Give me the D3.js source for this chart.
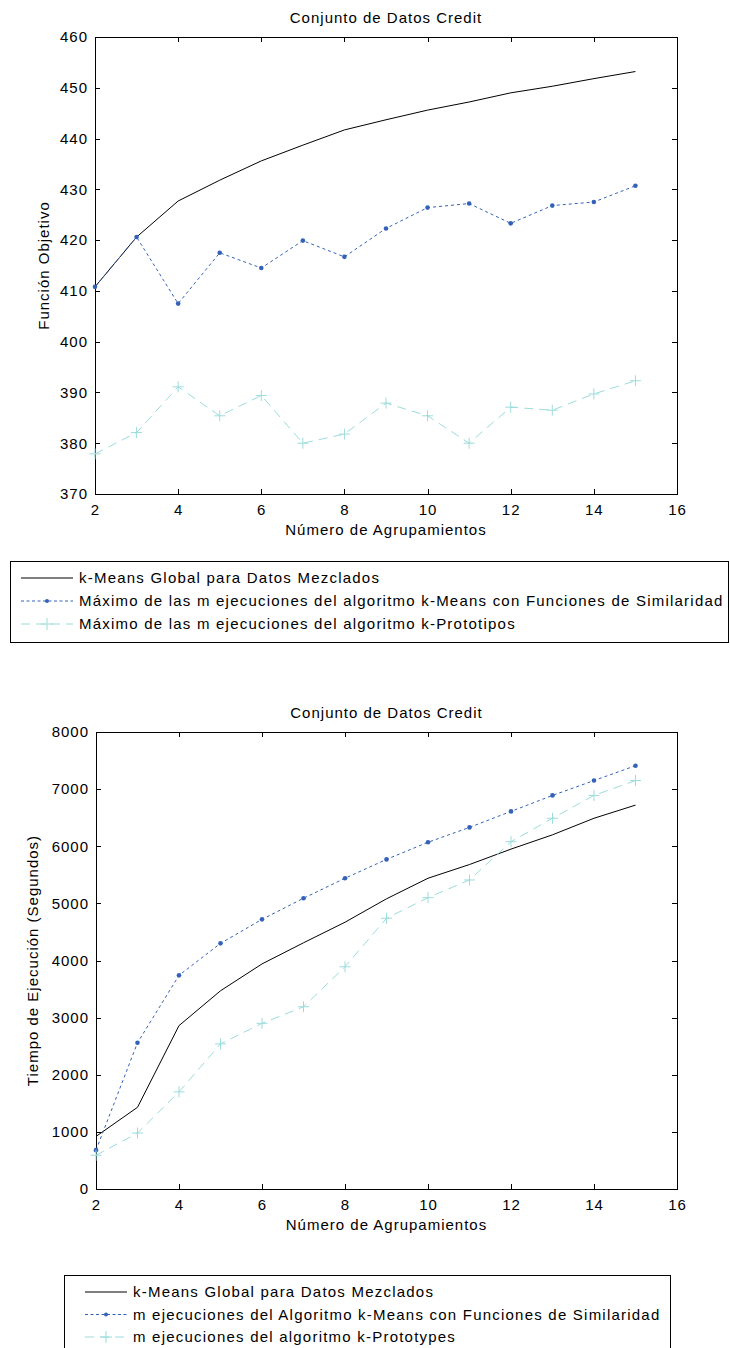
<!DOCTYPE html>
<meta charset="utf-8">
<title>Conjunto de Datos Credit</title>
<style>
body { margin: 0; background: #fff; }
svg text { font-family: Arial, "Liberation Sans", sans-serif; font-size: 15px; letter-spacing: 1px; fill: #000; }
svg text.legend { letter-spacing: 1.22px; }
.axis path, .axis line { stroke: #000; stroke-width: 1; fill: none; shape-rendering: crispEdges; }
</style>
<body>
<script src="https://d3js.org/d3.v7.min.js"></script>
<script>

// number of clusters (x values)
var clusters = [2, 3, 4, 5, 6, 7, 8, 9, 10, 11, 12, 13, 14, 15];
var xTicks = [2, 4, 6, 8, 10, 12, 14, 16];

// chart 1: objective function
var objGlobal  = [410.8, 420.6, 427.7, 431.8, 435.6, 438.7, 441.7, 443.7, 445.6, 447.2, 449.0, 450.3, 451.8, 453.2];
var objSimil   = [410.8, 420.6, 407.5, 417.5, 414.5, 419.9, 416.7, 422.3, 426.4, 427.2, 423.3, 426.8, 427.5, 430.7];
var objProto   = [377.9, 382.1, 391.1, 385.4, 389.4, 380.0, 381.8, 387.9, 385.4, 380.0, 387.1, 386.5, 389.7, 392.3];
var objTicks   = [370, 380, 390, 400, 410, 420, 430, 440, 450, 460];
var objLegend  = ["k-Means Global para Datos Mezclados",
                  "Máximo de las m ejecuciones del algoritmo k-Means con Funciones de Similaridad",
                  "Máximo de las m ejecuciones del algoritmo k-Prototipos"];

// chart 2: execution time
var timeGlobal = [920, 1430, 2860, 3470, 3940, 4310, 4670, 5080, 5440, 5680, 5950, 6200, 6490, 6720];
var timeSimil  = [680, 2560, 3740, 4300, 4720, 5090, 5440, 5770, 6070, 6330, 6610, 6890, 7150, 7410];
var timeProto  = [590, 980, 1700, 2540, 2900, 3190, 3890, 4740, 5100, 5410, 6080, 6490, 6890, 7150];
var timeTicks  = [0, 1000, 2000, 3000, 4000, 5000, 6000, 7000, 8000];
var timeLegend = ["k-Means Global para Datos Mezclados",
                  "m ejecuciones del Algoritmo k-Means con Funciones de Similaridad",
                  "m ejecuciones del algoritmo k-Prototypes"];

var title = "Conjunto de Datos Credit";
var xLabel = "Número de Agrupamientos";

var blue = "#3362b8", cyan = "#9cdcdc";

var svg = d3.select("body").append("svg")
    .attr("width", 730)
    .attr("height", 1348);

function drawPanel(opt) {
  var x = d3.scaleLinear().domain([2, 16]).range([opt.left, opt.right]);
  var y = d3.scaleLinear().domain(opt.yDomain).range([opt.bottom, opt.top]);
  var g = svg.append("g");
  var fmt = d3.format("d");

  // axes with inward ticks on all four sides
  g.append("g").attr("class", "axis")
      .attr("transform", "translate(0," + opt.bottom + ")")
      .call(d3.axisBottom(x).tickValues(xTicks).tickSizeInner(-5).tickSizeOuter(0).tickPadding(10).tickFormat(fmt));
  g.append("g").attr("class", "axis")
      .attr("transform", "translate(0," + opt.top + ")")
      .call(d3.axisTop(x).tickValues(xTicks).tickSizeInner(-5).tickSizeOuter(0).tickFormat(""));
  g.append("g").attr("class", "axis")
      .attr("transform", "translate(" + opt.left + ",0)")
      .call(d3.axisLeft(y).tickValues(opt.yTicks).tickSizeInner(-5).tickSizeOuter(0).tickPadding(7).tickFormat(fmt));
  g.append("g").attr("class", "axis")
      .attr("transform", "translate(" + opt.right + ",0)")
      .call(d3.axisRight(y).tickValues(opt.yTicks).tickSizeInner(-5).tickSizeOuter(0).tickFormat(""));
  g.selectAll(".axis text").attr("font-size", null).attr("font-family", null);

  var line = d3.line().x(function(d, i) { return x(clusters[i]); }).y(function(d) { return y(d); });

  g.append("path").datum(opt.global).attr("d", line)
      .attr("fill", "none").attr("stroke", "#000").attr("stroke-width", 1);
  g.append("path").datum(opt.simil).attr("d", line)
      .attr("fill", "none").attr("stroke", blue).attr("stroke-width", 1).attr("stroke-dasharray", "3,3");
  g.append("path").datum(opt.proto).attr("d", line)
      .attr("fill", "none").attr("stroke", cyan).attr("stroke-width", 1).attr("stroke-dasharray", "9,6");

  g.selectAll(".dot").data(opt.simil).enter().append("circle")
      .attr("cx", function(d, i) { return x(clusters[i]); })
      .attr("cy", function(d) { return y(d); })
      .attr("r", 2.3).attr("fill", blue);

  g.selectAll(".plus").data(opt.proto).enter().append("path")
      .attr("transform", function(d, i) { return "translate(" + x(clusters[i]) + "," + y(d) + ")"; })
      .attr("d", "M-5.5,0H5.5M0,-5.5V5.5")
      .attr("stroke", cyan).attr("stroke-width", 1).attr("fill", "none");

  // titles
  g.append("text").attr("x", (opt.left + opt.right) / 2).attr("y", opt.top - 14)
      .attr("text-anchor", "middle").text(title);
  g.append("text").attr("x", (opt.left + opt.right) / 2).attr("y", opt.bottom + 41)
      .attr("text-anchor", "middle").text(xLabel);
  g.append("text")
      .attr("transform", "translate(" + opt.yLabelX + "," + (opt.top + opt.bottom) / 2 + ") rotate(-90)")
      .attr("text-anchor", "middle").text(opt.yLabel);

  // legend
  var lg = opt.legend;
  g.append("rect").attr("x", lg.x + 0.5).attr("y", lg.y + 0.5).attr("width", lg.w).attr("height", lg.h)
      .attr("fill", "#fff").attr("stroke", "#000").attr("stroke-width", 1);
  var styles = [
    {stroke: "#000", dash: null, marker: null},
    {stroke: blue, dash: "3,2.5", marker: "dot"},
    {stroke: cyan, dash: "9,6", marker: "plus"}
  ];
  lg.labels.forEach(function(label, i) {
    var yy = lg.y + lg.first + i * lg.step;
    var s = styles[i];
    g.append("line").attr("x1", lg.sx).attr("x2", lg.sx + lg.sample).attr("y1", yy).attr("y2", yy)
        .attr("stroke", s.stroke).attr("stroke-width", 1).attr("stroke-dasharray", s.dash);
    var mx = lg.sx + lg.sample / 2;
    if (s.marker === "dot") g.append("circle").attr("cx", mx).attr("cy", yy).attr("r", 2).attr("fill", blue);
    if (s.marker === "plus") g.append("path").attr("d", "M" + (mx - 6) + "," + yy + "H" + (mx + 6) + "M" + mx + "," + (yy - 6) + "V" + (yy + 6))
        .attr("stroke", cyan).attr("fill", "none");
    g.append("text").attr("class", "legend").attr("x", lg.sx + lg.sample + 6).attr("y", yy + 5).text(label);
  });
}

drawPanel({
  left: 95, right: 677, top: 37, bottom: 494,
  yDomain: [370, 460], yTicks: objTicks,
  global: objGlobal, simil: objSimil, proto: objProto,
  yLabel: "Función Objetivo", yLabelX: 49,
  legend: {x: 10, y: 561, w: 718, h: 81, sx: 21, sample: 52, first: 17, step: 23, labels: objLegend}
});

drawPanel({
  left: 96, right: 677, top: 732, bottom: 1189,
  yDomain: [0, 8000], yTicks: timeTicks,
  global: timeGlobal, simil: timeSimil, proto: timeProto,
  yLabel: "Tiempo de Ejecución (Segundos)", yLabelX: 38,
  legend: {x: 64, y: 1275, w: 606, h: 90, sx: 85, sample: 42, first: 17, step: 22.5, labels: timeLegend}
});

</script>
</body>
